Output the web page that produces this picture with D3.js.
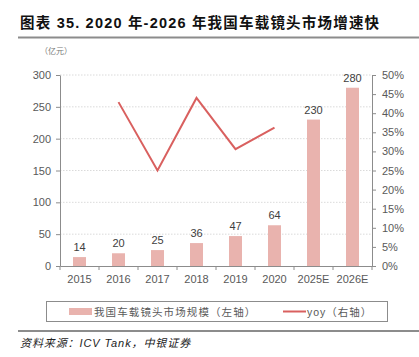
<!DOCTYPE html>
<html><head><meta charset="utf-8">
<script src="https://cdn.jsdelivr.net/npm/d3@7"></script>
<style>body{margin:0;background:#fff}svg{display:block}</style>
</head><body>
<script>
const categories = ["2015","2016","2017","2018","2019","2020","2025E","2026E"];
const marketSize = [14,20,25,36,47,64,230,280];
const yoy = [null,0.429,0.25,0.44,0.306,0.362,null,null];
const leftTicks = [0,50,100,150,200,250,300];
const rightTicks = [0,0.05,0.1,0.15,0.2,0.25,0.3,0.35,0.4,0.45,0.5];

const W=419,H=357;
const svg=d3.select("body").append("svg").attr("width",W).attr("height",H);
const font="Liberation Sans, Arial, sans-serif";
const cjk="'Noto Sans CJK SC', sans-serif";

svg.append("text").attr("x",20).attr("y",28).attr("font-family",font+","+cjk)
  .attr("font-weight","bold").attr("font-size",14.5).attr("fill","#111").attr("letter-spacing",1.2)
  .text("图表 35. 2020 年-2026 年我国车载镜头市场增速快");
svg.append("rect").attr("x",18).attr("y",36.5).attr("width",401).attr("height",2).attr("fill","#8c8c8c");
svg.append("text").attr("x",40).attr("y",54).attr("font-family",cjk).attr("font-size",8).attr("fill","#777").text("（亿元）");

const x=d3.scaleBand().domain(categories).range([60,372]);
const y=d3.scaleLinear().domain([0,300]).range([266,75]);
const yR=d3.scaleLinear().domain([0,0.5]).range([266,75]);

// gridlines
svg.append("g").selectAll("line").data(leftTicks.filter(d=>d>0)).join("line")
  .attr("x1",60).attr("x2",372).attr("y1",d=>y(d)).attr("y2",d=>y(d))
  .attr("stroke","#d0d0d0").attr("stroke-width",0.8).attr("stroke-dasharray","1.5,1.5");

// bars
const bw=x.bandwidth()/3;
svg.append("g").selectAll("rect").data(marketSize).join("rect")
  .attr("x",(d,i)=>x(categories[i])+x.bandwidth()/2-bw/2).attr("width",bw)
  .attr("y",d=>y(d)).attr("height",d=>266-y(d)).attr("fill","#e9b3ae");
svg.append("g").selectAll("text").data(marketSize).join("text")
  .attr("x",(d,i)=>x(categories[i])+x.bandwidth()/2).attr("y",d=>y(d)-6)
  .attr("text-anchor","middle").attr("font-family",font).attr("font-size",11).attr("fill","#404040")
  .text(d=>d);

// line
const pts=yoy.map((v,i)=>[categories[i],v]).filter(p=>p[1]!==null);
svg.append("path").datum(pts).attr("fill","none").attr("stroke","#d9605f").attr("stroke-width",2)
  .attr("d",d3.line().x(p=>x(p[0])+x.bandwidth()/2).y(p=>yR(p[1])));

// axes
const axStyle=g=>{g.selectAll("path,line").attr("stroke","#8c8c8c");
  g.selectAll("text").attr("font-family",font).attr("font-size",11).attr("fill","#595959");};
svg.append("g").attr("transform","translate(60,0)")
  .call(d3.axisLeft(y).tickValues(leftTicks).tickSize(4).tickSizeOuter(0).tickPadding(5)).call(axStyle);
svg.append("g").attr("transform","translate(372,0)")
  .call(d3.axisRight(yR).tickValues(rightTicks).tickFormat(d3.format(".0%")).tickSize(4).tickSizeOuter(0).tickPadding(6)).call(axStyle);
const xa=svg.append("g").attr("transform","translate(0,266)")
  .call(d3.axisBottom(x).tickSize(0).tickPadding(9)).call(axStyle);
xa.selectAll(".b").data(d3.range(categories.length+1)).join("line")
  .attr("x1",i=>60+i*x.step()).attr("x2",i=>60+i*x.step()).attr("y1",0).attr("y2",4).attr("stroke","#8c8c8c");

// legend
svg.append("rect").attr("x",46.5).attr("y",301.5).attr("width",341).attr("height",20)
  .attr("fill","none").attr("stroke","#8c8c8c").attr("stroke-width",1);
svg.append("rect").attr("x",69).attr("y",308).attr("width",23).attr("height",7).attr("fill","#e9b3ae");
svg.append("text").attr("x",94).attr("y",315.5).attr("font-family",cjk).attr("font-size",10.5).attr("fill","#595959")
  .attr("letter-spacing",1.1).text("我国车载镜头市场规模（左轴）");
svg.append("line").attr("x1",283).attr("x2",306).attr("y1",311.5).attr("y2",311.5).attr("stroke","#d9605f").attr("stroke-width",2);
svg.append("text").attr("x",307).attr("y",315.5).attr("font-family",font+","+cjk).attr("font-size",10.5).attr("fill","#595959")
  .attr("letter-spacing",1).text("yoy（右轴）");

svg.append("rect").attr("x",18).attr("y",330).attr("width",401).attr("height",2).attr("fill","#8c8c8c");
svg.append("text").attr("x",20).attr("y",347).attr("font-family",font+","+cjk).attr("font-style","italic")
  .attr("font-size",11).attr("fill","#222").attr("letter-spacing",0.9).text("资料来源：ICV Tank，中银证券");
</script>
</body></html>
